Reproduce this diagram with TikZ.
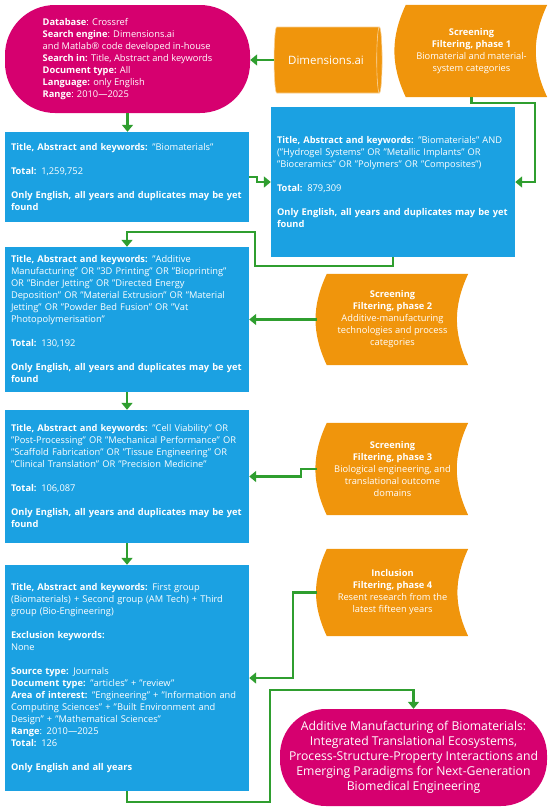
\documentclass[tikz,border=0pt]{standalone}
\usepackage{fontspec}
\setmainfont{Open Sans}
\usepackage{tikz}
\usetikzlibrary{arrows.meta}
\usetikzlibrary{shapes}
\usetikzlibrary{backgrounds}
\definecolor{dbmagenta}{HTML}{D6006F}
\definecolor{queryblue}{HTML}{1BA1E2}
\definecolor{filterorange}{HTML}{F0950C}
\definecolor{flowgreen}{HTML}{2F9E2F}
\tikzset{%
  search box/.style={
    rectangle,
    rounded corners=50pt,
    fill=dbmagenta,
    text=white,
    align=left,
    font=\fontsize{9.3}{12}\selectfont,
    minimum width=245pt,
    minimum height=108pt
  },
  source db/.style={
    cylinder,
    shape aspect=0.35,
    cylinder uses custom fill,
    cylinder body fill=filterorange,
    cylinder end fill=filterorange,
    draw=filterorange!45!white,
    line width=0.6pt,
    text=white,
    font=\fontsize{11.5}{14}\selectfont,
    minimum width=66pt,
    minimum height=108pt
  },
  query box/.style={
    rectangle,
    fill=queryblue,
    text=white,
    align=left,
    font=\fontsize{9.3}{12}\selectfont,
    text width=232pt,
    inner xsep=6pt,
    minimum width=244pt
  },
  filter step/.style={
    rectangle,
    text=white,
    align=center,
    font=\fontsize{9.3}{12}\selectfont,
    minimum width=151pt
  },
  result box/.style={
    rectangle,
    rounded corners=46pt,
    fill=dbmagenta,
    text=white,
    align=center,
    font=\fontsize{12.2}{15}\selectfont,
    minimum width=267pt,
    minimum height=97pt
  },
  flow arrow/.style={
    draw=flowgreen,
    line width=2.5pt,
    -{Triangle[length=7pt,width=11pt]}
  },
}

\begin{document}
\begin{tikzpicture}[x=1pt,y=1pt]
    \useasboundingbox (0,0) rectangle (550,-811);

    \node (db) [xshift=127.5pt,yshift=-59pt,search box]
    {\textbf{Database}: Crossref\\
     \textbf{Search engine}: Dimensions.ai\\
     and Matlab® code developed in-house\\
     \textbf{Search in:} Title, Abstract and keywords\\
     \textbf{Document type:} All\\
     \textbf{Language:} only English\\
     \textbf{Range}: 2010—2025};
    \node (dim) [xshift=326pt,yshift=-60pt,source db]
    {Dimensions.ai};
    \node (ph1) [xshift=471.5pt,yshift=-51pt,filter step,minimum height=92pt]
    {\textbf{Screening}\\\textbf{Filtering, phase 1}\\
     Biomaterial and material-\\system categories};

    \node (b1) [xshift=127pt,yshift=-177pt,query box,minimum height=90pt]
    {\textbf{Title, Abstract and keywords:} "Biomaterials"\\[12pt]
     \textbf{Total:} 1,259,752\\[12pt]
     \textbf{Only English, all years and duplicates may be yet}\\
     \textbf{found}};
    \node (b2) [xshift=393pt,yshift=-182pt,query box,minimum height=150pt]
    {\textbf{Title, Abstract and keywords:} "Biomaterials" AND\\
     ("Hydrogel Systems" OR "Metallic Implants" OR\\
     "Bioceramics" OR "Polymers" OR "Composites")\\[12pt]
     \textbf{Total:} 879,309\\[12pt]
     \textbf{Only English, all years and duplicates may be yet}\\
     \textbf{found}};

    \node (b3) [xshift=127pt,yshift=-319.5pt,query box,minimum height=145pt]
    {\textbf{Title, Abstract and keywords:} "Additive\\
     Manufacturing" OR "3D Printing" OR "Bioprinting"\\
     OR "Binder Jetting" OR "Directed Energy\\
     Deposition" OR "Material Extrusion" OR "Material\\
     Jetting" OR "Powder Bed Fusion" OR "Vat\\
     Photopolymerisation"\\[12pt]
     \textbf{Total:} 130,192\\[12pt]
     \textbf{Only English, all years and duplicates may be yet}\\
     \textbf{found}};
    \node (ph2) [xshift=392.5pt,yshift=-319.5pt,filter step,minimum height=91pt]
    {\textbf{Screening}\\\textbf{Filtering, phase 2}\\
     Additive-manufacturing\\technologies and process\\categories};

    \node (b4) [xshift=127pt,yshift=-476.5pt,query box,minimum height=133pt]
    {\textbf{Title, Abstract and keywords:} "Cell Viability" OR\\
     "Post-Processing" OR "Mechanical Performance" OR\\
     "Scaffold Fabrication" OR "Tissue Engineering" OR\\
     "Clinical Translation" OR "Precision Medicine"\\[12pt]
     \textbf{Total:} 106,087\\[12pt]
     \textbf{Only English, all years and duplicates may be yet}\\
     \textbf{found}};
    \node (ph3) [xshift=392.5pt,yshift=-469pt,filter step,minimum height=92pt]
    {\textbf{Screening}\\\textbf{Filtering, phase 3}\\
     Biological engineering, and\\translational outcome\\domains};

    \node (b5) [xshift=127pt,yshift=-678pt,query box,minimum height=226pt]
    {\textbf{Title, Abstract and keywords:} First group\\
     (Biomaterials) + Second group (AM Tech) + Third\\
     group (Bio-Engineering)\\[12pt]
     \textbf{Exclusion keywords:}\\
     None\\[12pt]
     \textbf{Source type:} Journals\\
     \textbf{Document type:} "articles" + "review"\\
     \textbf{Area of interest:} "Engineering" + "Information and\\
     Computing Sciences" + "Built Environment and\\
     Design" + "Mathematical Sciences"\\
     \textbf{Range}: 2010—2025\\
     \textbf{Total:} 126\\[12pt]
     \textbf{Only English and all years}};
    \node (ph4) [xshift=392.5pt,yshift=-592.5pt,filter step,minimum height=87pt]
    {\textbf{Inclusion}\\\textbf{Filtering, phase 4}\\
     Resent research from the\\latest fifteen years};

    \node (fin) [xshift=413.5pt,yshift=-757.5pt,result box]
    {Additive Manufacturing of Biomaterials:\\
     Integrated Translational Ecosystems,\\
     Process-Structure-Property Interactions and\\
     Emerging Paradigms for Next-Generation\\
     Biomedical Engineering};

    % filtering shapes behind the texts
    \begin{scope}[on background layer]
      \foreach \n in {ph1,ph2,ph3,ph4}
        \fill[filterorange] ([xshift=10pt]\n.north west) to[bend right=25]
          ([xshift=10pt]\n.south west) -- (\n.south east) to[bend left=25]
          (\n.north east) -- cycle;
    \end{scope}

    \draw [flow arrow] (dim.west) -- (dim.west -| db.east);
    \draw [flow arrow] (db.south) -- (db.south |- b1.north);
    \draw [flow arrow] (b1.east) -- ++(8pt,0pt) |- (b2.west);
    \draw [flow arrow] (ph1.south) -- ++(0pt,-6pt) -| ([xshift=20pt]b2.east) -- (b2.east);
    \draw [flow arrow] (b2.south) -- ++(0pt,-9pt) -- ++(-138pt,0pt) -- ++(0pt,34pt) -| (b3.north);
    \draw [flow arrow] (ph2.west) -- (ph2.west -| b3.east);
    \draw [flow arrow] (b3.south) -- (b4.north);
    \draw [flow arrow] (ph3.west) -- ++(-16pt,0pt) |- (b4.east);
    \draw [flow arrow] (b4.south) -- (b5.north);
    \draw [flow arrow] (ph4.west) -- ++(-24pt,0pt) |- (b5.east);
    \draw [flow arrow] (b5.south) -- ++(0pt,-11pt) -- ++(143pt,0pt) -- ++(0pt,112pt) -| (fin.north);
\end{tikzpicture}
\end{document}
